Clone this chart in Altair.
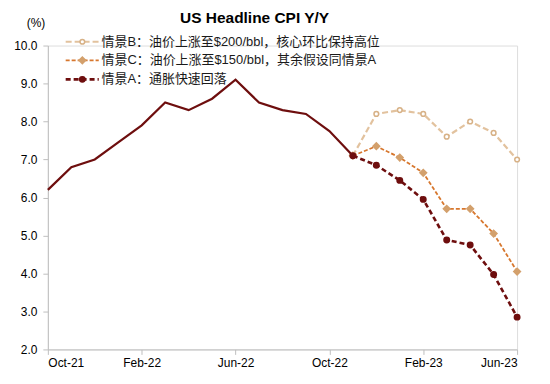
import altair as alt
import pandas as pd

months = ["Oct-21", "Nov-21", "Dec-21", "Jan-22", "Feb-22", "Mar-22", "Apr-22",
          "May-22", "Jun-22", "Jul-22", "Aug-22", "Sep-22", "Oct-22", "Nov-22",
          "Dec-22", "Jan-23", "Feb-23", "Mar-23", "Apr-23", "May-23", "Jun-23"]
hist = [6.2, 6.8, 7.0, 7.45, 7.9, 8.5, 8.3, 8.6, 9.1, 8.5, 8.3, 8.2, 7.75, 7.1]
scen_b = [7.1, 8.2, 8.3, 8.2, 7.6, 8.0, 7.7, 7.0]
scen_c = [7.1, 7.35, 7.05, 6.65, 5.7, 5.7, 5.05, 4.05]
scen_a = [7.1, 6.85, 6.45, 5.95, 4.88, 4.75, 3.97, 2.85]
tick_labels = ["Oct-21", "Feb-22", "Jun-22", "Oct-22", "Feb-23", "Jun-23"]
y_ticks = [2, 3, 4, 5, 6, 7, 8, 9, 10]
legend_labels = ["情景B：油价上涨至$200/bbl，核心环比保持高位",
                 "情景C：油价上涨至$150/bbl，其余假设同情景A",
                 "情景A：通胀快速回落"]

FONT = "Liberation Sans, Arial, Noto Sans CJK SC"

hist_df = pd.DataFrame({"idx": list(range(len(hist))), "v": hist})
start = len(hist) - 1
tick_vals = [months.index(m) for m in tick_labels]
label_expr = "[" + ",".join("'%s'" % m for m in months) + "][datum.value]"

X_SCALE = alt.Scale(domain=[0, 20], nice=False, zero=False)
Y_SCALE = alt.Scale(domain=[2, 10], nice=False, zero=False)
X_AXIS = alt.Axis(values=tick_vals, labelExpr=label_expr, title=None,
                  grid=False, domainColor="#BFBFBF", tickColor="#BFBFBF",
                  tickSize=5, labelPadding=3, labelFontSize=12, labelOverlap=False,
                  labelColor="#000000", labelFont=FONT)
Y_AXIS = alt.Axis(values=y_ticks, format=".1f", tickCount=len(y_ticks),
                  title="(%)", titleAngle=0, titleAlign="right",
                  titleBaseline="middle", titleX=-3, titleY=-23,
                  titleFontWeight="normal", titleFontSize=12,
                  titleFont=FONT, titleColor="#000000",
                  grid=False, domainColor="#BFBFBF", tickColor="#BFBFBF",
                  tickSize=5, labelPadding=6, labelFontSize=12, labelOverlap=False,
                  labelColor="#000000", labelFont=FONT)


def xq(field):
    return alt.X(field + ":Q", scale=X_SCALE, axis=X_AXIS)


def yq(field):
    return alt.Y(field + ":Q", scale=Y_SCALE, axis=Y_AXIS)


layers = [alt.Chart(hist_df).mark_line(color="#6E0E0E", strokeWidth=2.2).encode(
    x=xq("idx"), y=yq("v"))]

styles = [
    # values, color, dash, width, shape, fill, stroke, size
    (scen_b, "#E2C29E", [6, 3], 2.2, "circle", "#FFFFFF", "#D7B186", 22),
    (scen_c, "#D7772E", [4, 2], 1.8, "diamond", "#D3A06C", "#D3A06C", 45),
    (scen_a, "#6E0E0E", [5, 3], 2.6, "circle", "#6E0E0E", "#6E0E0E", 30),
]
leg_y = [10.1, 9.61, 9.11]
for i, (vals, col, dash, w, shp, fill, strk, sz) in enumerate(styles):
    df = pd.DataFrame({"idx": list(range(start, start + len(vals))), "v": vals})
    base = alt.Chart(df)
    layers.append(base.mark_line(color=col, strokeDash=dash, strokeWidth=w).encode(
        x=xq("idx"), y=yq("v")))
    layers.append(base.mark_point(shape=shp, filled=True, fill=fill, stroke=strk,
                                  strokeWidth=1.5, size=sz, opacity=1).encode(
        x=xq("idx"), y=yq("v")))
    # legend entry
    ld = pd.DataFrame({"idx": [0.76], "idx2": [2.17], "mid": [1.47], "v": [leg_y[i]],
                       "label": [legend_labels[i]], "tx": [2.29]})
    lb = alt.Chart(ld)
    layers.append(lb.mark_rule(color=col, strokeDash=dash, strokeWidth=w).encode(
        x=xq("idx"), x2="idx2", y=yq("v")))
    layers.append(lb.mark_point(shape=shp, filled=True, fill=fill, stroke=strk,
                                strokeWidth=1.5, size=sz, opacity=1).encode(
        x=xq("mid"), y=yq("v")))
    layers.append(lb.mark_text(align="left", baseline="middle", fontSize=13,
                               font=FONT, color="#1a1a1a").encode(
        x=xq("tx"), y=yq("v"), text="label:N"))

chart = alt.layer(*layers).properties(
    width=471, height=305,
    title=alt.TitleParams("US Headline CPI Y/Y", fontSize=15.5, fontWeight="bold",
                          font=FONT, color="#000000", anchor="middle", dx=-28,
                          offset=0, dy=10, frame="group"),
    autosize=alt.AutoSizeParams(type="none"),
    padding={"left": 40, "top": 37, "right": 25, "bottom": 26},
).configure_view(stroke=None).configure(background="white")

chart.save("out.html", embed_options={"renderer": "svg", "actions": False})
